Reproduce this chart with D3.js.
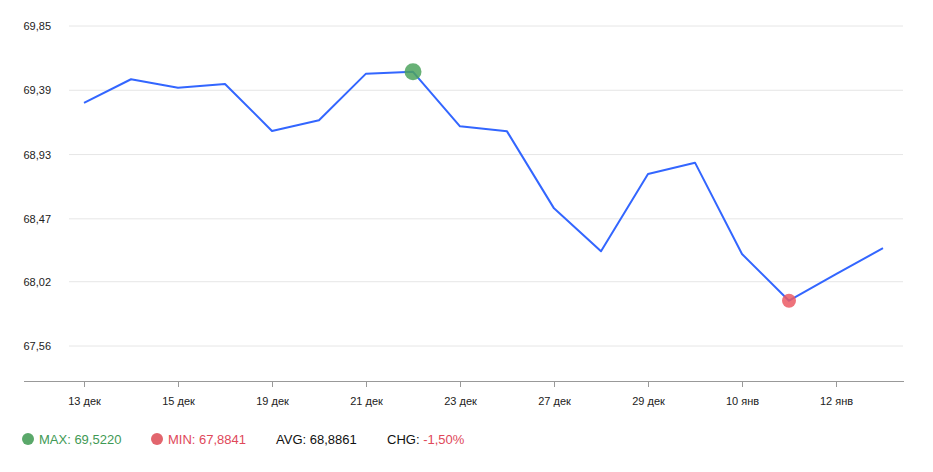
<!DOCTYPE html>
<html>
<head>
<meta charset="utf-8">
<script src="https://cdn.jsdelivr.net/npm/d3@7"></script>
<style>
  body { margin: 0; background: #fff; }
  svg { font-family: "Liberation Sans", Arial, sans-serif; }
</style>
</head>
<body>
<div id="chart"></div>
<script>
// dates (trading days) and rate values
const dates = ["13 дек","14 дек","15 дек","18 дек","19 дек","20 дек","21 дек","22 дек","23 дек",
               "26 дек","27 дек","28 дек","29 дек","30 дек","10 янв","11 янв","12 янв","13 янв"];
const values = [69.300, 69.469, 69.408, 69.435, 69.099, 69.175, 69.509, 69.522, 69.132,
                69.096, 68.545, 68.238, 68.791, 68.872, 68.218, 67.8841, 68.075, 68.260];
const yTicks = [67.56, 68.02, 68.47, 68.93, 69.39, 69.85];
const statLabels = ["MAX", "MIN", "AVG", "CHG"];
const statValues = ["69,5220", "67,8841", "68,8861", "-1,50%"];

const width = 933, height = 472;

const svg = d3.select("#chart").append("svg")
  .attr("width", width)
  .attr("height", height);

let x = d3.scalePoint().domain(d3.range(dates.length)).range([84, 883]);
let y = d3.scaleLinear().domain([67.56, 69.85]).range([346, 26]);

const ru = d3.formatLocale({decimal: ",", thousands: " ", grouping: [3], currency: ["", ""]});

// grid
svg.append("g").selectAll("line")
  .data(yTicks)
  .join("line")
  .attr("x1", 69).attr("x2", 903)
  .attr("y1", d => y(d)).attr("y2", d => y(d))
  .attr("stroke", "#e6e6e6");

svg.append("g").selectAll("text")
  .data(yTicks)
  .join("text")
  .attr("x", 51)
  .attr("y", d => y(d) + 4)
  .attr("text-anchor", "end")
  .style("font-size", "11px")
  .style("fill", "#222")
  .text(d => ru.format(".2f")(d));

// x axis
let xAxis = d3.axisBottom(x)
  .tickValues(d3.range(0, dates.length, 2))
  .tickSize(6)
  .tickFormat(i => dates[i]);

let gx = svg.append("g").attr("transform", "translate(0,381)").call(xAxis);
gx.select(".domain").remove();
gx.selectAll(".tick line").attr("stroke", "#999");
gx.selectAll(".tick text")
  .attr("y", 16)
  .style("font-size", "11px")
  .style("font-family", "Liberation Sans, Arial, sans-serif")
  .style("fill", "#222");
gx.append("line")
  .attr("x1", 24).attr("x2", 904)
  .attr("y1", 0.5).attr("y2", 0.5)
  .attr("stroke", "#999");

// line
let line = d3.line()
  .x((d, i) => x(i))
  .y(d => y(d));

svg.append("path")
  .datum(values)
  .attr("d", line)
  .attr("fill", "none")
  .attr("stroke", "#3366ff")
  .attr("stroke-width", 2)
  .attr("stroke-linejoin", "round");

// max / min markers
let iMax = d3.maxIndex(values), iMin = d3.minIndex(values);
svg.append("circle")
  .attr("cx", x(iMax)).attr("cy", y(values[iMax]))
  .attr("r", 8.5)
  .attr("fill", "#4ea35e")
  .attr("fill-opacity", 0.85);
svg.append("circle")
  .attr("cx", x(iMin)).attr("cy", y(values[iMin]))
  .attr("r", 7)
  .attr("fill", "#eb5a64")
  .attr("fill-opacity", 0.85);

// legend
const legX = [22, 151, 276, 387];
const legColor = ["#3f9a55", "#e0485a", "#111", "#111"];
const dotColor = ["#5aa86a", "#e2656d"];
let leg = svg.append("g").attr("transform", "translate(0,444)");
statLabels.forEach((s, i) => {
  let lx = legX[i];
  if (i < 2) {
    leg.append("circle").attr("cx", lx + 6).attr("cy", -5).attr("r", 6).attr("fill", dotColor[i]);
    lx += 17;
  }
  let t = leg.append("text").attr("x", lx).attr("y", 0).style("font-size", "13px");
  if (i < 2) {
    t.style("fill", legColor[i]).text(s + ": " + statValues[i]);
  } else if (i == 2) {
    t.style("fill", "#111").text(s + ": " + statValues[i]);
  } else {
    t.append("tspan").style("fill", "#111").text(s + ": ");
    t.append("tspan").style("fill", "#e0485a").text(statValues[i]);
  }
});
</script>
</body>
</html>
